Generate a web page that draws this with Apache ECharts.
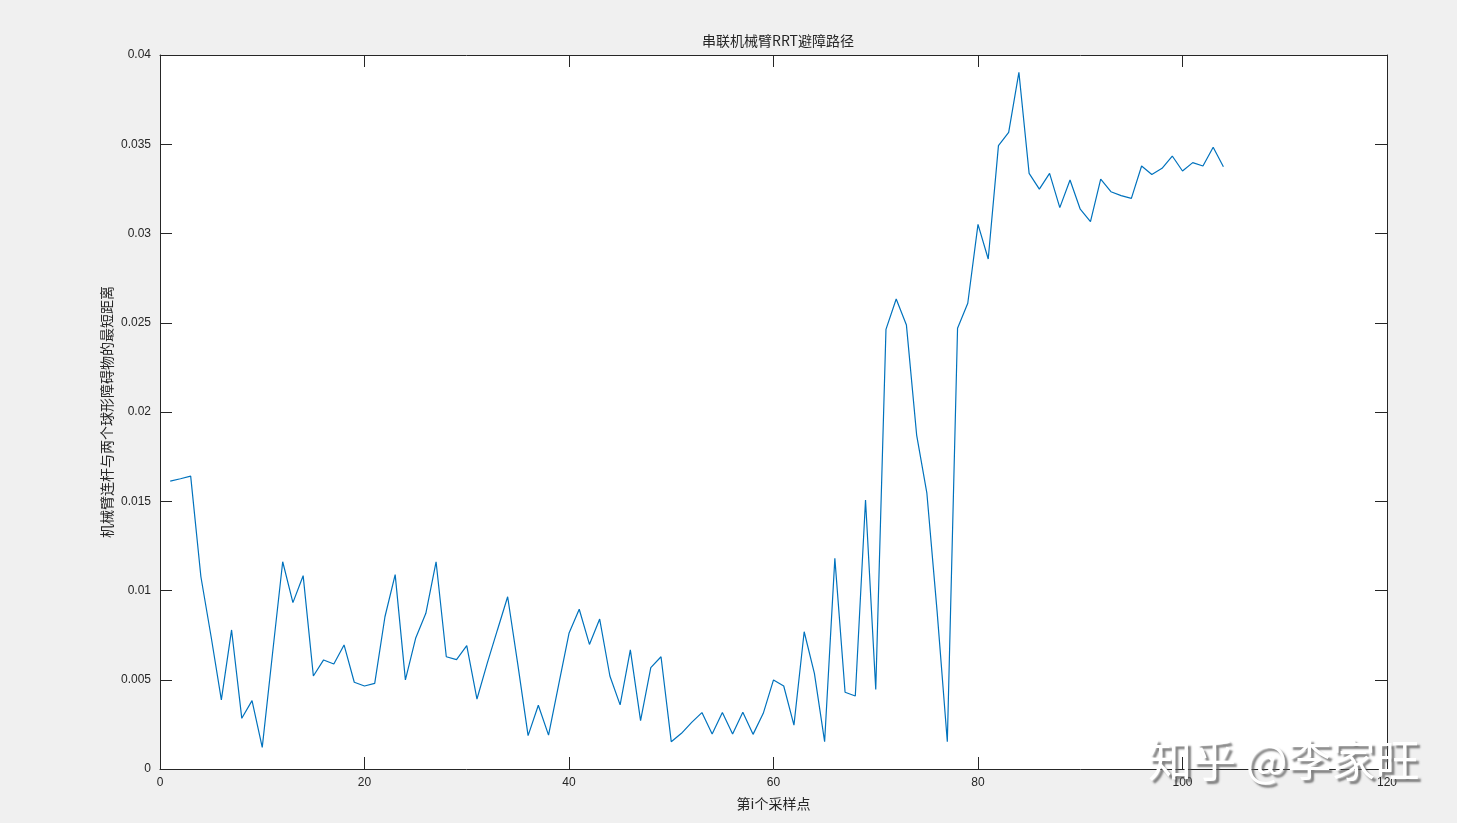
<!DOCTYPE html>
<html>
<head>
<meta charset="utf-8">
<script src="https://cdn.jsdelivr.net/npm/echarts@6/dist/echarts.min.js"></script>
<style>
  html, body { margin: 0; padding: 0; background: #f0f0f0; }
  #main { width: 1457px; height: 823px; }
</style>
</head>
<body>
<div id="main"></div>
<script>
// 采样点序号 1..104
const sampleIdx = [
  1, 2, 3, 4, 5, 6, 7, 8, 9, 10, 11, 12, 13, 14, 15, 16, 17, 18, 19, 20,
  21, 22, 23, 24, 25, 26, 27, 28, 29, 30, 31, 32, 33, 34, 35, 36, 37, 38, 39, 40,
  41, 42, 43, 44, 45, 46, 47, 48, 49, 50, 51, 52, 53, 54, 55, 56, 57, 58, 59, 60,
  61, 62, 63, 64, 65, 66, 67, 68, 69, 70, 71, 72, 73, 74, 75, 76, 77, 78, 79, 80,
  81, 82, 83, 84, 85, 86, 87, 88, 89, 90, 91, 92, 93, 94, 95, 96, 97, 98, 99, 100,
  101, 102, 103, 104
]

// 最短距离
const minDist = [
  0.01613, 0.01626, 0.01641, 0.01077, 0.00741, 0.00387, 0.00779, 0.00284, 0.00383, 0.00121,
  0.00644, 0.01161, 0.00932, 0.01083, 0.00521, 0.00611, 0.00588, 0.00695, 0.00486, 0.00465,
  0.00480, 0.00853, 0.01089, 0.00499, 0.00732, 0.00872, 0.01161, 0.00629, 0.00613, 0.00691,
  0.00392, 0.00592, 0.00779, 0.00965, 0.00583, 0.00187, 0.00357, 0.00190, 0.00476, 0.00760,
  0.00895, 0.00698, 0.00840, 0.00521, 0.00359, 0.00667, 0.00271, 0.00568, 0.00629, 0.00153,
  0.00200, 0.00261, 0.00316, 0.00196, 0.00316, 0.00196, 0.00318, 0.00194, 0.00312, 0.00499,
  0.00465, 0.00246, 0.00769, 0.00536, 0.00153, 0.01180, 0.00430, 0.00409, 0.01507, 0.00445,
  0.02463, 0.02633, 0.02487, 0.01871, 0.01545, 0.00883, 0.00153, 0.02469, 0.02609, 0.03051,
  0.02857, 0.03492, 0.03567, 0.03903, 0.03337, 0.03249, 0.03337, 0.03145, 0.03300, 0.03136,
  0.03066, 0.03305, 0.03234, 0.03212, 0.03197, 0.03378, 0.03331, 0.03365, 0.03434, 0.03350,
  0.03397, 0.03378, 0.03483, 0.03374
]

const yTickLabels = ['0', '0.005', '0.01', '0.015', '0.02', '0.025', '0.03', '0.035', '0.04']

const chart = echarts.init(document.getElementById('main'))

// MATLAB 风格：四周边框，刻度朝内
const axisLine = { show: true, onZero: false, lineStyle: { color: '#262626', width: 1 } }
const axisTick = { show: true, inside: true, length: 12, lineStyle: { color: '#262626', width: 1 } }
const labelFont = { color: '#262626', fontSize: 12, fontFamily: 'Liberation Sans, Arial, sans-serif' }

const option = {
  backgroundColor: '#f0f0f0',
  animation: false,
  title: {
    text: '串联机械臂RRT避障路径',
    left: 773,
    textAlign: 'center',
    top: 29,
    textStyle: { color: '#262626', fontSize: 14, fontWeight: 'normal', fontFamily: 'Noto Sans CJK SC' }
  },
  grid: { left: 160, right: 70, top: 55, bottom: 54, show: true, backgroundColor: '#ffffff', borderWidth: 0 },
  xAxis: [
    {
      type: 'value', min: 0, max: 120, interval: 20,
      name: '第i个采样点', nameLocation: 'middle', nameGap: 28,
      nameTextStyle: { color: '#262626', fontSize: 14, fontFamily: 'Noto Sans CJK SC' },
      axisLine, axisTick,
      axisLabel: { ...labelFont, margin: 8 },
      splitLine: { show: false }
    },
    {
      type: 'value', min: 0, max: 120, interval: 20, position: 'top',
      axisLine, axisTick, axisLabel: { show: false }, splitLine: { show: false }
    }
  ],
  yAxis: [
    {
      type: 'value', min: 0, max: 0.04, interval: 0.005,
      axisLine, axisTick,
      axisLabel: {
        ...labelFont, margin: 9,
        formatter: v => yTickLabels[Math.round(v / 0.005)]
      },
      splitLine: { show: false }
    },
    {
      type: 'value', min: 0, max: 0.04, interval: 0.005, position: 'right',
      axisLine, axisTick, axisLabel: { show: false }, splitLine: { show: false }
    }
  ],
  graphic: [
    {
      // y 轴标题，竖排放在刻度标签左侧
      type: 'text', x: 107, y: 412, rotation: Math.PI / 2,
      style: {
        text: '机械臂连杆与两个球形障碍物的最短距离',
        fill: '#262626',
        font: '14px "Noto Sans CJK SC"',
        align: 'center',
        verticalAlign: 'middle'
      }
    },
    {
      type: 'text', left: 1148, top: 738, z: 100,
      style: {
        text: '知乎 @李家旺',
        fill: '#ffffff',
        font: '44px "Noto Sans CJK SC"',
        textShadowColor: 'rgba(90,90,90,0.75)',
        textShadowBlur: 2,
        textShadowOffsetX: 3,
        textShadowOffsetY: 3
      }
    }
  ],
  series: [
    {
      type: 'line',
      data: sampleIdx.map((x, i) => [x, minDist[i]]),
      showSymbol: false,
      lineStyle: { color: '#0072BD', width: 1.2 },
      itemStyle: { color: '#0072BD' }
    }
  ]
}

chart.setOption(option)
</script>
</body>
</html>
